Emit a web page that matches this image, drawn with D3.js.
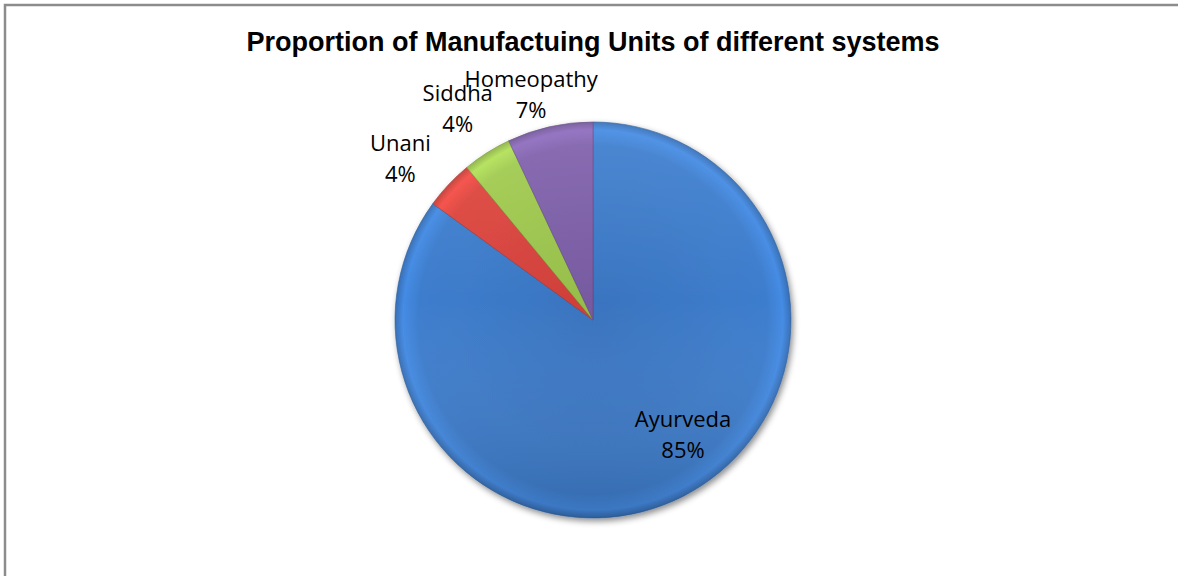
<!DOCTYPE html>
<html>
<head>
<meta charset="utf-8">
<style>
body { margin: 0; background: #fff; }
svg { display: block; }
.title { font-family: "Liberation Sans", Arial, sans-serif; font-weight: bold; font-size: 27px; }
.lbl { font-family: "Open Sans", sans-serif; font-size: 22px; fill: #000; }
</style>
</head>
<body>
<svg id="chart"></svg>
<script src="https://cdnjs.cloudflare.com/ajax/libs/d3/7.8.5/d3.min.js"></script>
<script>
// data
var categories = ["Ayurveda", "Unani", "Siddha", "Homeopathy"]
var shares = [85, 4, 4, 7]
var colours = ["#3d7dcd", "#dc453e", "#a0ca4f", "#7f60ab"]
var titleText = "Proportion of Manufactuing Units of different systems"

var width = 1178, height = 576
var cx = 593, cy = 320, radius = 198

// label placement (radius from centre + small nudges, Excel "best fit" style)
var labelLayout = {
  "Ayurveda":   {r: 152, dx: 21, dy: -13},
  "Unani":      {r: 245, dx: -14, dy: 14},
  "Siddha":     {r: 245, dx: -4, dy: 3},
  "Homeopathy": {r: 224, dx: -13, dy: 1}
}

var svg = d3.select("#chart").attr("width", width).attr("height", height)
var defs = svg.append("defs")

// chart frame (only top/left show in the picture)
svg.append("rect")
  .attr("x", 5).attr("y", 5)
  .attr("width", width + 20).attr("height", height + 20)
  .attr("fill", "none").attr("stroke", "#8c8c8c").attr("stroke-width", 2.5)

svg.append("text")
  .attr("class", "title")
  .attr("x", 593).attr("y", 51)
  .attr("text-anchor", "middle")
  .text(titleText)

var shadow = defs.append("filter").attr("id", "shadow")
  .attr("x", "-20%").attr("y", "-20%").attr("width", "140%").attr("height", "140%")
shadow.append("feDropShadow")
  .attr("dx", 2).attr("dy", 3).attr("stdDeviation", 3)
  .attr("flood-color", "#000").attr("flood-opacity", 0.45)

// bevel-ish radial gradient per slice
colours.forEach(function(c, i) {
  var base = d3.color(c)
  var g = defs.append("radialGradient").attr("id", "grad" + i)
    .attr("gradientUnits", "userSpaceOnUse")
    .attr("cx", 0).attr("cy", 0).attr("r", radius)
  g.append("stop").attr("offset", "0%").attr("stop-color", base.darker(0.2))
  g.append("stop").attr("offset", "88%").attr("stop-color", base.formatHex())
  g.append("stop").attr("offset", "96%").attr("stop-color", base.brighter(0.3))
  g.append("stop").attr("offset", "100%").attr("stop-color", base.darker(0.35))
})

var light = defs.append("linearGradient").attr("id", "light")
  .attr("x1", 0).attr("y1", 0).attr("x2", 0).attr("y2", 1)
light.append("stop").attr("offset", "0%").attr("stop-color", "#fff").attr("stop-opacity", 0.08)
light.append("stop").attr("offset", "45%").attr("stop-color", "#fff").attr("stop-opacity", 0)
light.append("stop").attr("offset", "100%").attr("stop-color", "#000").attr("stop-opacity", 0.16)

var pie = d3.pie().sort(null).value(function(d) { return d })
var arcs = pie(shares)
var arc = d3.arc().innerRadius(0).outerRadius(radius)

var g = svg.append("g").attr("transform", "translate(" + cx + "," + cy + ")")
var slices = g.append("g").attr("filter", "url(#shadow)")
slices.selectAll("path.slice")
  .data(arcs)
  .enter().append("path")
  .attr("class", "slice")
  .attr("d", arc)
  .attr("fill", function(d, i) { return "url(#grad" + i + ")" })
  .attr("stroke", function(d, i) { return d3.color(colours[i]).darker(0.8) })
  .attr("stroke-width", 0.6)
  .attr("stroke-linejoin", "round")

g.append("circle").attr("r", radius).attr("fill", "url(#light)").attr("pointer-events", "none")

// labels
arcs.forEach(function(d, i) {
  var name = categories[i]
  var L = labelLayout[name]
  var a = (d.startAngle + d.endAngle) / 2
  var x = L.r * Math.sin(a) + L.dx
  var y = -L.r * Math.cos(a) + L.dy
  var t = g.append("text").attr("class", "lbl").attr("text-anchor", "middle")
  t.append("tspan").attr("x", x).attr("y", y - 15.5).text(name)
  t.append("tspan").attr("x", x).attr("y", y + 15.5).text(shares[i] + "%")
})
</script>
</body>
</html>
